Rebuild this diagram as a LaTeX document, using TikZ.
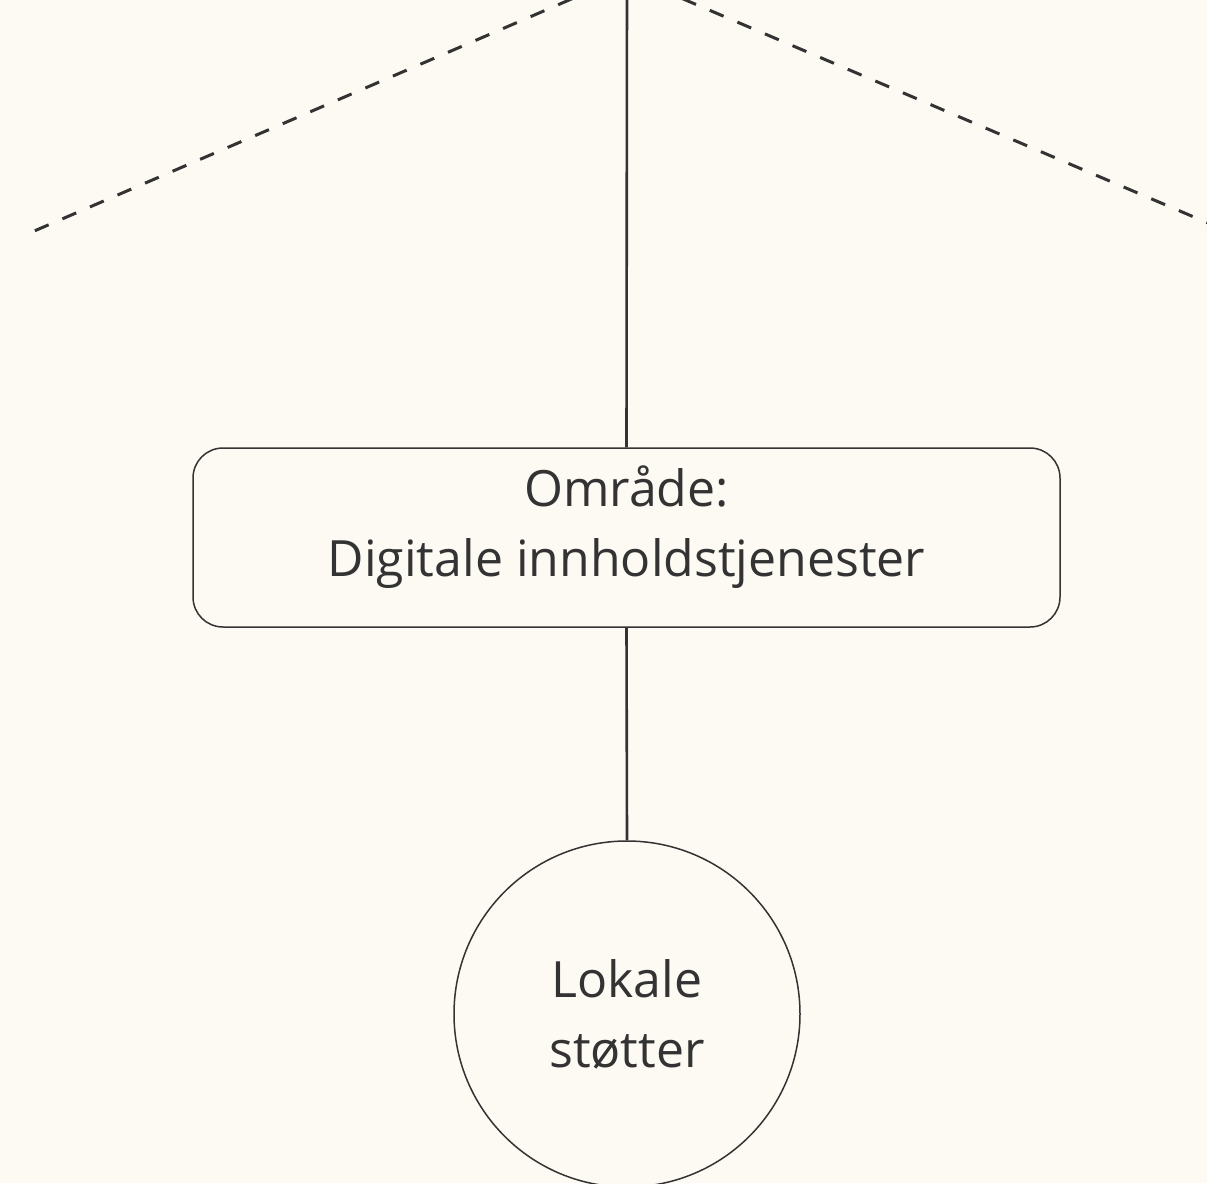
\documentclass[tikz,border=0pt]{standalone}
\usepackage{fontspec}
\setmainfont{Open Sans}
\definecolor{bgc}{HTML}{FDFAF3}
\definecolor{ink}{HTML}{333333}
\begin{document}
\begin{tikzpicture}[x=1pt,y=-1pt,
  conn/.style={draw=ink,line width=2.6pt},
  dashconn/.style={draw=ink,line width=3pt,dash pattern=on 15pt off 15pt},
  areabox/.style={draw=ink,line width=1.5pt,rounded corners=30pt,minimum width=867pt,minimum height=179pt,align=center,font=\fontsize{50}{70}\selectfont,text=ink,fill=bgc},
  leafnode/.style={draw=ink,line width=1.5pt,circle,minimum size=346pt,align=center,font=\fontsize{50}{70}\selectfont,text=ink,fill=bgc}]
\useasboundingbox (0,0) rectangle (1207,1183);
\fill[bgc] (0,0) rectangle (1207,1183);
\clip (0,0) rectangle (1207,1183);
\coordinate (top) at (627,-25);
\coordinate (lend) at (25,235);
\coordinate (rend) at (1215,226);
\node[areabox] (area) at (626.5,537.5) {};
\node[align=center,font=\fontsize{50}{70}\selectfont,text=ink] (areatxt) at (626.5,527) {Område:\\Digitale innholdstjenester};
\node[leafnode] (leaf) at (627,1014) {Lokale\\støtter};
\draw[conn] (top) -- (area.north);
\draw[conn] (area.south) -- (leaf.north);
\draw[dashconn] (top) -- (lend);
\draw[dashconn] (top) -- (rend);
\end{tikzpicture}
\end{document}
